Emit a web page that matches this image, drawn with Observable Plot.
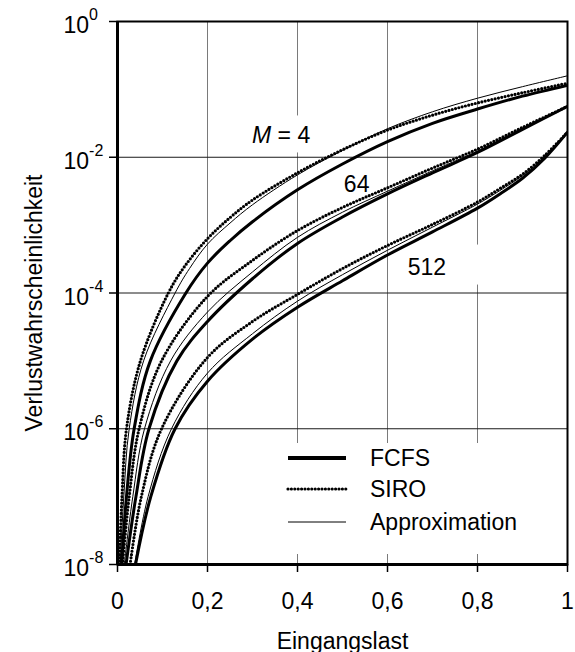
<!DOCTYPE html>
<html><head><meta charset="utf-8">
<script src="https://cdn.jsdelivr.net/npm/d3@7"></script>
<script src="https://cdn.jsdelivr.net/npm/@observablehq/plot@0.6"></script>
<style>
body{margin:0;background:#fff;}
svg{font-family:"Liberation Sans",Arial,sans-serif;}
</style>
</head><body><div id="chart"></div>
<script>
// ---- tick values ----
const loadTicks = [0, 0.2, 0.4, 0.6, 0.8, 1];
const probTicks = [1, 1e-2, 1e-4, 1e-6, 1e-8];

// ---- curves: load (Eingangslast) and log10 of Verlustwahrscheinlichkeit ----
const m4SiroLoad = [0.004,0.010,0.020,0.051,0.113,0.15,0.2,0.25,0.3,0.4,0.5,0.6,0.7,0.8,0.9,1];
const m4SiroExp  = [-8,-7,-6,-5,-4,-3.6,-3.2,-2.89,-2.63,-2.23,-1.89,-1.6,-1.38,-1.2,-1.05,-0.91];
const m4ApproxLoad = [0.006,0.014,0.026,0.058,0.128,0.16,0.2,0.25,0.3,0.4,0.5,0.6,0.7,0.8,0.9,1];
const m4ApproxExp  = [-8,-7,-6,-5,-4,-3.64,-3.28,-2.97,-2.7,-2.26,-1.9,-1.58,-1.33,-1.13,-0.96,-0.8];
const m4FcfsLoad = [0.009,0.020,0.037,0.073,0.152,0.2,0.25,0.3,0.4,0.5,0.6,0.7,0.8,0.9,1];
const m4FcfsExp  = [-8,-7,-6,-5,-4,-3.56,-3.23,-2.95,-2.48,-2.1,-1.77,-1.5,-1.29,-1.1,-0.94];

const m64SiroLoad = [0.011,0.026,0.048,0.098,0.2,0.3,0.4,0.5,0.6,0.7,0.8,0.9,1];
const m64SiroExp  = [-8,-7,-6,-5,-4.05,-3.52,-3.08,-2.74,-2.45,-2.16,-1.88,-1.56,-1.25];
const m64ApproxLoad = [0.015,0.034,0.060,0.118,0.2,0.3,0.4,0.5,0.6,0.7,0.8,0.9,1];
const m64ApproxExp  = [-8,-7,-6,-5,-4.28,-3.69,-3.18,-2.81,-2.5,-2.2,-1.91,-1.58,-1.25];
const m64FcfsLoad = [0.019,0.041,0.070,0.132,0.2,0.3,0.4,0.5,0.6,0.7,0.8,0.9,1];
const m64FcfsExp  = [-8,-7,-6,-5,-4.42,-3.79,-3.27,-2.88,-2.54,-2.23,-1.93,-1.59,-1.25];

const m512SiroLoad = [0.028,0.053,0.098,0.2,0.3,0.4,0.5,0.6,0.7,0.8,0.85,0.9,0.95,1];
const m512SiroExp  = [-8,-7,-6,-4.95,-4.42,-4.02,-3.64,-3.3,-2.99,-2.66,-2.46,-2.25,-1.97,-1.63];
const m512ApproxLoad = [0.038,0.068,0.120,0.2,0.3,0.4,0.5,0.6,0.7,0.8,0.85,0.9,0.95,1];
const m512ApproxExp  = [-8,-7,-6,-5.18,-4.6,-4.12,-3.73,-3.37,-3.03,-2.69,-2.49,-2.27,-1.99,-1.63];
const m512FcfsLoad = [0.040,0.074,0.128,0.2,0.3,0.4,0.5,0.6,0.7,0.8,0.85,0.9,0.95,1];
const m512FcfsExp  = [-8,-7,-6,-5.3,-4.68,-4.21,-3.82,-3.44,-3.1,-2.75,-2.54,-2.31,-2.01,-1.63];

// ---- annotations & legend ----
const labelText = ["M = 4", "64", "512"];
const labelLoad = [0.299, 0.503, 0.645];
const labelProb = [2.05e-2, 3.9e-3, 2.4e-4];
const legendLabels = ["FCFS", "SIRO", "Approximation"];

const series = [
  {key:"4-SIRO", type:"SIRO", load:m4SiroLoad, exp:m4SiroExp},
  {key:"4-Approx", type:"Approximation", load:m4ApproxLoad, exp:m4ApproxExp},
  {key:"4-FCFS", type:"FCFS", load:m4FcfsLoad, exp:m4FcfsExp},
  {key:"64-SIRO", type:"SIRO", load:m64SiroLoad, exp:m64SiroExp},
  {key:"64-Approx", type:"Approximation", load:m64ApproxLoad, exp:m64ApproxExp},
  {key:"64-FCFS", type:"FCFS", load:m64FcfsLoad, exp:m64FcfsExp},
  {key:"512-SIRO", type:"SIRO", load:m512SiroLoad, exp:m512SiroExp},
  {key:"512-Approx", type:"Approximation", load:m512ApproxLoad, exp:m512ApproxExp},
  {key:"512-FCFS", type:"FCFS", load:m512FcfsLoad, exp:m512FcfsExp}
];
const rows = series.flatMap(s => s.load.map((l, i) => ({key:s.key, type:s.type, load:l, p:Math.pow(10, s.exp[i])})));
const labels = labelText.map((t, i) => ({t, x:labelLoad[i], y:labelProb[i]}));

const lineOpts = {x:"load", y:"p", z:"key", stroke:"#000", curve:"catmull-rom", clip:true};

const chart = Plot.plot({
  width: 575, height: 652,
  marginLeft: 117, marginRight: 8, marginTop: 21, marginBottom: 88,
  style: {fontFamily: "Liberation Sans, Arial, sans-serif", fontSize: "23px", background: "white", color: "#000"},
  x: {domain: [0, 1]},
  y: {type: "log", domain: [1e-8, 1]},
  marks: [
    Plot.gridX(loadTicks.slice(1, -1), {stroke: "#7a7a7a", strokeOpacity: 1, strokeWidth: 1}),
    Plot.gridY(probTicks.slice(1, -1), {stroke: "#1a1a1a", strokeOpacity: 1, strokeWidth: 1}),
    Plot.line(rows.filter(d => d.type === "Approximation"), {...lineOpts, strokeWidth: 1}),
    Plot.line(rows.filter(d => d.type === "FCFS"), {...lineOpts, strokeWidth: 3}),
    Plot.line(rows.filter(d => d.type === "SIRO"), {...lineOpts, strokeWidth: 3.2, strokeDasharray: "0 3.4", strokeLinecap: "round"}),
    Plot.text(labels, {x: "x", y: "y", text: "t", textAnchor: "start", lineAnchor: "middle", fill: "#000", fontSize: 23}),
    Plot.frame({stroke: "#000", strokeWidth: 2}),
    Plot.ruleX([0], {stroke: "#000", strokeWidth: 3}),
    Plot.ruleY([1e-8], {stroke: "#000", strokeWidth: 3}),
    Plot.axisX({ticks: loadTicks, tickSize: 8, tickPadding: 20, strokeWidth: 1.5,
      tickFormat: d => String(d).replace(".", ","), label: "Eingangslast",
      labelAnchor: "center", labelArrow: "none", labelOffset: 84, fontSize: 23}),
    Plot.axisY({ticks: probTicks, tickSize: 8, tickPadding: 46, strokeWidth: 1.5, textAnchor: "start",
      tickFormat: d => String(Math.round(Math.log10(d))), label: "Verlustwahrscheinlichkeit",
      labelAnchor: "center", labelArrow: "none", labelOffset: 92, fontSize: 23})
  ]
});
document.getElementById("chart").appendChild(chart);

// ---- post-processing: superscripts, italic M, label boxes, legend ----
const svg = chart.tagName.toLowerCase() === "svg" ? chart : chart.querySelector("svg");
const NS = "http://www.w3.org/2000/svg";
const yTickGroup = svg.querySelector('[aria-label="y-axis tick label"]');
if (yTickGroup) {
  yTickGroup.setAttribute("text-anchor", "start");
  yTickGroup.querySelectorAll("text").forEach(t => {
    const e = t.textContent;
    t.textContent = "";
    t.removeAttribute("dy");
    t.setAttribute("y", "0.5em");
    t.setAttribute("text-anchor", "start");
    const a = document.createElementNS(NS, "tspan"); a.textContent = "10";
    const b = document.createElementNS(NS, "tspan"); b.textContent = e;
    b.setAttribute("font-size", "16"); b.setAttribute("dy", "-13");
    t.appendChild(a); t.appendChild(b);
  });
}
// shift the y-axis title slightly downward
const yLabel = svg.querySelector('[aria-label="y-axis label"] text');
if (yLabel) yLabel.setAttribute("dx", "-10");

const textGroups = svg.querySelectorAll('[aria-label="text"] text');
const yGrid = svg.querySelector('[aria-label="y-grid"]');
const boxPads = {"M = 4": [6, 6, 7, 4], "512": [8, 38, 9, 5]}; // left,right,top,bottom
textGroups.forEach(t => {
  const s = t.textContent;
  if (s === "M = 4") {
    t.textContent = "";
    const m = document.createElementNS(NS, "tspan"); m.textContent = "M"; m.setAttribute("font-style", "italic");
    const r = document.createElementNS(NS, "tspan"); r.textContent = " = 4";
    t.appendChild(m); t.appendChild(r);
  }
  if (boxPads[s]) {
    const bb = t.getBBox();
    const ctm = t.getCTM(), sctm = svg.getCTM();
    const p = boxPads[s];
    let ox = 0, oy = 0;
    if (ctm && sctm) { ox = ctm.e - sctm.e; oy = ctm.f - sctm.f; }
    const rect = document.createElementNS(NS, "rect");
    rect.setAttribute("x", bb.x + ox - p[0]);
    rect.setAttribute("y", bb.y + oy - p[2]);
    rect.setAttribute("width", bb.width + p[0] + p[1]);
    rect.setAttribute("height", bb.height + p[2] + p[3]);
    rect.setAttribute("fill", "white");
    yGrid.parentNode.insertBefore(rect, yGrid.nextSibling);
  }
});
// legend
const lg = document.createElementNS(NS, "g");
lg.setAttribute("text-anchor", "start");
const bg = document.createElementNS(NS, "rect");
bg.setAttribute("x", 280); bg.setAttribute("y", 443); bg.setAttribute("width", 285); bg.setAttribute("height", 111); bg.setAttribute("fill", "white");
yGrid.parentNode.insertBefore(bg, yGrid.nextSibling);
const legendY = [458, 489, 522];
const legendStyle = [
  {w: 4, dash: null},
  {w: 3.2, dash: "0 3.4"},
  {w: 1, dash: null}
];
legendLabels.forEach((lab, i) => {
  const l = document.createElementNS(NS, "line");
  l.setAttribute("x1", 288); l.setAttribute("x2", 346);
  l.setAttribute("y1", legendY[i]); l.setAttribute("y2", legendY[i]);
  l.setAttribute("stroke", "#000"); l.setAttribute("stroke-width", legendStyle[i].w);
  if (legendStyle[i].dash) { l.setAttribute("stroke-dasharray", legendStyle[i].dash); l.setAttribute("stroke-linecap", "round"); }
  lg.appendChild(l);
  const tx = document.createElementNS(NS, "text");
  tx.setAttribute("x", 370); tx.setAttribute("y", legendY[i] + 8);
  tx.setAttribute("text-anchor", "start");
  tx.setAttribute("font-size", "23"); tx.setAttribute("fill", "#000");
  tx.textContent = lab;
  lg.appendChild(tx);
});
svg.appendChild(lg);
</script>
</body></html>
